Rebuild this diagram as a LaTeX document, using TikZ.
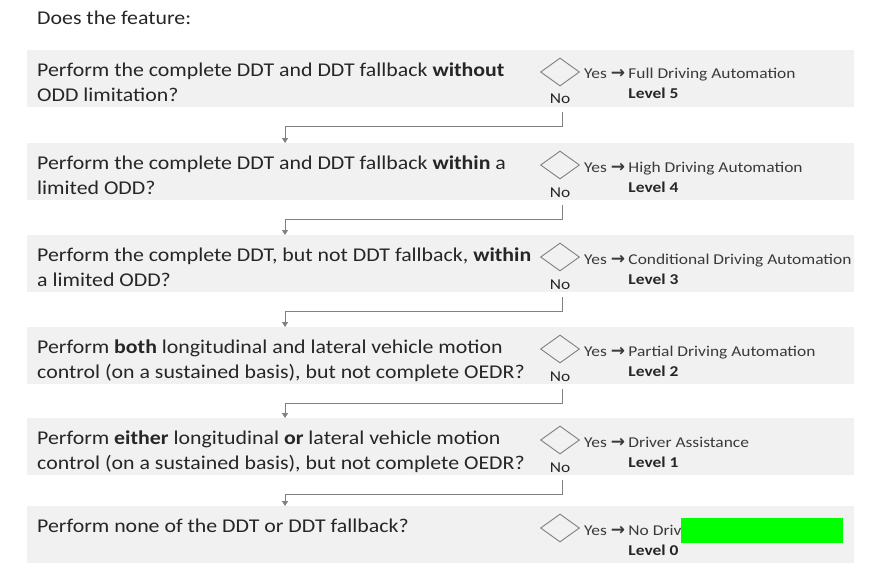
\documentclass[tikz,border=0pt]{standalone}
\usepackage{fontspec}
\setmainfont{Carlito}[FakeStretch=1.12]
\newfontfamily\sidefont{Carlito}[FakeStretch=1.16]
\newfontfamily\arrowfont{DejaVu Sans}
\usetikzlibrary{shapes.geometric,arrows.meta}
\definecolor{band}{HTML}{F1F1F1}
\definecolor{ink}{HTML}{262626}
\definecolor{soft}{HTML}{3A3A3A}
\definecolor{edge}{HTML}{808080}
\definecolor{mask}{HTML}{00FF00}
\tikzset{
  bandbox/.style={fill=band, minimum width=827pt, minimum height=57pt, anchor=north west, inner sep=0pt},
  ask/.style={text=ink, font=\fontsize{19.5}{25}\selectfont, align=left, anchor=north west, inner sep=0pt},
  choice/.style={diamond, draw=edge, line width=0.9pt, minimum width=39pt, minimum height=28pt, inner sep=0pt},
  reply/.style={text=soft, font=\sidefont\fontsize{15}{18}\selectfont, anchor=base west, inner sep=0pt},
  grade/.style={text=ink, font=\sidefont\fontsize{15}{18}\selectfont\bfseries, anchor=base west, inner sep=0pt},
  nolab/.style={text=ink, font=\sidefont\fontsize{15}{18}\selectfont, anchor=base, inner sep=0pt},
  flow/.style={draw=edge, line width=0.9pt, -{Triangle[width=6pt,length=5pt]}}
}
\newcommand{\StageRow}[5]{%
  \node[bandbox] (band#1) at (27,#2) {};
  \node[ask] (ask#1) at (37,#2+13) {#3};
  \node[choice] (choice#1) at (560,#2+22) {};
  \node[reply] (yes#1) at (584,#2+29) {Yes {\arrowfont\bfseries\fontsize{17}{18}\selectfont →}};
  \node[reply] (res#1) at ([xshift=3pt]yes#1.base east) {#4};
  \node[grade] (lev#1) at ([yshift=-20pt]res#1.base west) {#5};
}

\begin{document}
\begin{tikzpicture}[x=1pt,y=-1pt]
  \useasboundingbox (0,0) rectangle (893,567);

  \node[ask, anchor=base west] (title) at (37,25) {Does the feature:};

  \StageRow{1}{50}{Perform the complete DDT and DDT fallback \textbf{without}\\ODD limitation?}{Full Driving Automation}{Level 5}
  \StageRow{2}{143}{Perform the complete DDT and DDT fallback \textbf{within} a\\limited ODD?}{High Driving Automation}{Level 4}
  \StageRow{3}{235}{Perform the complete DDT, but not DDT fallback, \textbf{within}\\a limited ODD?}{Conditional Driving Automation}{Level 3}
  \StageRow{4}{327}{Perform \textbf{both} longitudinal and lateral vehicle motion\\control (on a sustained basis), but not complete OEDR?}{Partial Driving Automation}{Level 2}
  \StageRow{5}{418}{Perform \textbf{either} longitudinal \textbf{or} lateral vehicle motion\\control (on a sustained basis), but not complete OEDR?}{Driver Assistance}{Level 1}
  \StageRow{6}{506}{Perform none of the DDT or DDT fallback?}{No Driving Automation}{Level 0}

  % no branches
  \node[nolab] (no1) at (560,104) {No};
  \node[nolab] (no2) at (560,197) {No};
  \node[nolab] (no3) at (560,289) {No};
  \node[nolab] (no4) at (560,381) {No};
  \node[nolab] (no5) at (560,472) {No};

  \coordinate (in2) at (285,143);
  \coordinate (in3) at (285,235);
  \coordinate (in4) at (285,327);
  \coordinate (in5) at (285,418);
  \coordinate (in6) at (285,506);

  \draw[flow] ([xshift=2pt,yshift=-8pt]no1.base) -- ++(0,14) -| (in2);
  \draw[flow] ([xshift=2pt,yshift=-8pt]no2.base) -- ++(0,14) -| (in3);
  \draw[flow] ([xshift=2pt,yshift=-8pt]no3.base) -- ++(0,14) -| (in4);
  \draw[flow] ([xshift=2pt,yshift=-8pt]no4.base) -- ++(0,14) -| (in5);
  \draw[flow] ([xshift=2pt,yshift=-8pt]no5.base) -- ++(0,14) -| (in6);

  \fill[mask] (681,518) rectangle (843,543);
\end{tikzpicture}
\end{document}
